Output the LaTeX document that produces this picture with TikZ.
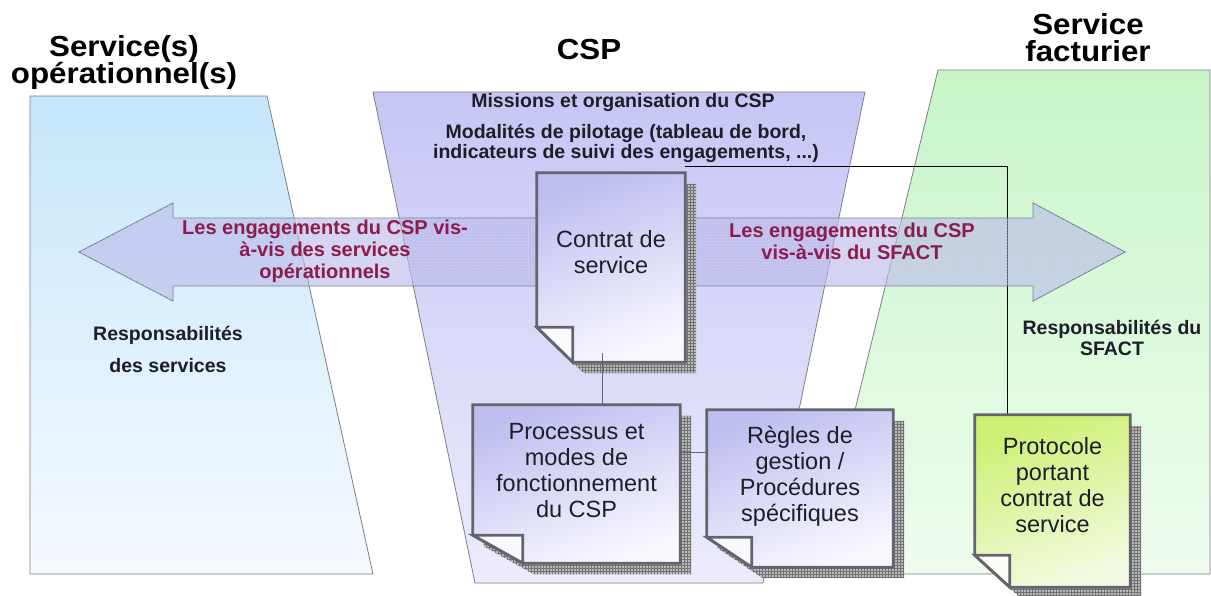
\documentclass[tikz,border=0pt]{standalone}
\usepackage{fontspec}
\setmainfont{Liberation Sans}
\newfontfamily\titlefont[FakeStretch=1.08]{Liberation Sans}
\usetikzlibrary{patterns,calc}
\definecolor{bluetop}{RGB}{198,230,250}
\definecolor{bluebot}{RGB}{246,250,255}
\definecolor{csptop}{RGB}{198,198,245}
\definecolor{cspbot}{RGB}{236,236,252}
\definecolor{greentop}{RGB}{200,245,200}
\definecolor{greenbot}{RGB}{238,252,238}
\definecolor{panelline}{RGB}{125,125,135}
\definecolor{docA}{RGB}{190,190,240}
\definecolor{docB}{RGB}{248,248,255}
\definecolor{protoA}{RGB}{205,240,115}
\definecolor{protoB}{RGB}{242,250,225}
\definecolor{docline}{RGB}{100,100,110}
\definecolor{arrowfill}{RGB}{175,175,230}
\definecolor{arrowline}{RGB}{120,128,150}
\definecolor{engcol}{RGB}{140,28,78}
\definecolor{txt}{RGB}{30,30,40}
\pgfdeclarelayer{panels}
\pgfdeclarelayer{docbg}
\pgfsetlayers{panels,docbg,main}
\newcommand\paperdoc[4]{%
  \fill[gray!55] ([shift={(11,11)}]#1.north west) -- ([shift={(11,11)}]#1.north east) -- ([shift={(11,11)}]#1.south east) -- ([shift={(11+#2,11)}]#1.south west) -- ([shift={(11,11-#3)}]#1.south west) -- cycle;
  \fill[pattern=grid, pattern color=gray!90!black] ([shift={(11,11)}]#1.north west) -- ([shift={(11,11)}]#1.north east) -- ([shift={(11,11)}]#1.south east) -- ([shift={(11+#2,11)}]#1.south west) -- ([shift={(11,11-#3)}]#1.south west) -- cycle;
  \filldraw[docedge,#4] (#1.north west) -- (#1.north east) -- (#1.south east) -- ([xshift=#2]#1.south west) -- ([shift={(0,-#3)}]#1.south west) -- cycle;
  \filldraw[docedge,fill=white,fill opacity=0.8] ([shift={(0,-#3)}]#1.south west) -- ([shift={(#2,-#3)}]#1.south west) -- ([xshift=#2]#1.south west) -- cycle;
}
\begin{document}
\begin{tikzpicture}[x=1pt,y=-1pt,
  panel/.style={draw=panelline, line width=0.8pt},
  title/.style={font=\titlefont\fontsize{29}{29}\bfseries, text=black, align=center, inner sep=0pt},
  engtext/.style={font=\fontsize{20}{22}\bfseries, text=engcol, align=center, inner sep=0pt},
  info/.style={font=\fontsize{19.5}{20}\bfseries, text=txt, align=center, inner sep=0pt},
  docbox/.style={rectangle, draw=none, inner sep=0pt},
  doctext/.style={font=\fontsize{23.5}{26}\selectfont, text=txt, align=center, inner sep=0pt},
  docedge/.style={draw=docline, line width=2.8pt, line join=miter},
  link/.style={draw=docline, line width=0.9pt}
]
\useasboundingbox (0,0) rectangle (1211,595);

\begin{pgfonlayer}{panels}
\fill[white] (0,0) rectangle (1211,595);
% panels
\draw[panel, top color=bluetop, bottom color=bluebot] (30,96) -- (267,96) -- (373,574) -- (30,574) -- cycle;
\draw[panel, top color=csptop, bottom color=cspbot] (373,92) -- (865,92) -- (763,583) -- (475,583) -- cycle;
\draw[panel, top color=greentop, bottom color=greenbot] (938,70) -- (1210,70) -- (1210,574) -- (815,574) -- cycle;
\end{pgfonlayer}

% titles
\node[title] (t1) at (124,62) {Service(s)\\[-2pt]opérationnel(s)};
\node[title] (t2) at (589,50) {CSP};
\node[title] (t3) at (1088,38) {Service\\[-2pt]facturier};

% CSP top texts
\node[info] (missions) at (623,102) {Missions et organisation du CSP};
\node[info] (pilotage) at (626,143) {Modalités de pilotage (tableau de bord,\\indicateurs de suivi des engagements, ...)};

% responsibilities
\node[info, font=\fontsize{19.5}{32}\bfseries] (resp1) at (168,349) {Responsabilités\\des services};
\node[info, font=\fontsize{19.5}{21}\bfseries] (resp2) at (1112,338) {Responsabilités du\\SFACT};

% documents (nodes)
\node[docbox, minimum width=148, minimum height=189] (contrat) at (611,267.5) {};
\node[docbox, minimum width=207, minimum height=158] (processus) at (576.5,484) {};
\node[docbox, minimum width=186, minimum height=157] (regles) at (800,488.5) {};
\node[docbox, minimum width=155, minimum height=172] (protocole) at (1052.5,501) {};

% long connector + arrow (behind documents)
\begin{pgfonlayer}{panels}
\coordinate (c2) at ([yshift=6pt]contrat.north east);
\coordinate (c3) at ([xshift=-45pt]protocole.north);
\draw[black, line width=0.9pt] (c2) -| (c3);
\path[fill=arrowfill, fill opacity=0.5, draw=arrowline, line width=0.9pt]
  (79,252) -- (173,203) -- (173,218) -- (1033,218) -- (1033,203) -- (1125,252)
  -- (1033,301) -- (1033,286) -- (173,286) -- (173,301) -- cycle;
\path[pattern=grid, pattern color=arrowfill!60!white, opacity=0.35]
  (79,252) -- (173,203) -- (173,218) -- (1033,218) -- (1033,203) -- (1125,252)
  -- (1033,301) -- (1033,286) -- (173,286) -- (173,301) -- cycle;
\end{pgfonlayer}

\node[engtext] (eng1) at (325,251) {Les engagements du CSP vis-\\à-vis des services\\opérationnels};
\node[engtext] (eng2) at (852,241) {Les engagements du CSP\\vis-à-vis du SFACT};

\begin{pgfonlayer}{docbg}
\paperdoc{contrat}{36}{35}{top color=docA, bottom color=docB, shading angle=20}
\paperdoc{processus}{50}{28}{top color=docA, bottom color=docB, shading angle=20}
\paperdoc{regles}{45}{30}{top color=docA, bottom color=docB, shading angle=20}
\paperdoc{protocole}{35}{32}{top color=protoA, bottom color=protoB, shading angle=20}
\end{pgfonlayer}

% document texts
\node[doctext] (contrat-t) at ([yshift=15pt]contrat.center) {Contrat de\\service};
\node[doctext] (processus-t) at ([yshift=13pt]processus.center) {Processus et\\modes de\\fonctionnement\\du CSP};
\node[doctext] (regles-t) at ([yshift=12pt]regles.center) {Règles de\\gestion /\\Procédures\\spécifiques};
\node[doctext] (protocole-t) at ([yshift=16pt]protocole.center) {Protocole\\portant\\contrat de\\service};

% short connectors
\coordinate (c1) at ([xshift=-9pt,yshift=9pt]contrat.south);
\draw[link] (c1) -- (c1 |- processus.north);
\coordinate (c4) at ([yshift=32pt]processus.east);
\draw[link] ([xshift=1pt]c4) -- (c4 -| regles.west);
\end{tikzpicture}
\end{document}
